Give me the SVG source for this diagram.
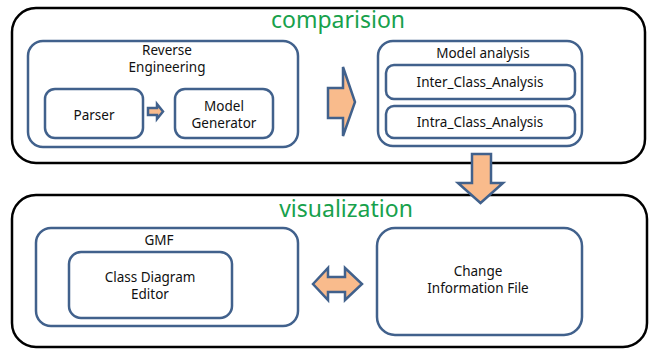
<svg xmlns="http://www.w3.org/2000/svg" width="653" height="349" viewBox="0 0 653 349">
<style>
.outer{fill:#fff;stroke:#000;stroke-width:2.5}
.box{fill:#fff;stroke:#41618c;stroke-width:2.5}
.arr{fill:#f9bb8c;stroke:#41618c;stroke-width:2.5;stroke-linejoin:miter}
.t{font-family:"Noto Sans","Open Sans",sans-serif;font-size:13.5px;fill:#111;text-anchor:middle}
.title{font-family:"Noto Sans","Open Sans",sans-serif;font-size:23px;fill:#17a14c;text-anchor:middle}
</style>
<rect width="653" height="349" fill="#fff"/>
<g id="comparision">
<rect class="outer" x="12" y="8" width="633" height="155" rx="24"/>
<text class="title" x="338" y="28">comparision</text>
</g>
<g id="reverse-engineering">
<rect class="box" x="28" y="41" width="270" height="106" rx="15"/>
<text class="t" x="167" y="55">Reverse</text>
<text class="t" x="167" y="72">Engineering</text>
</g>
<g id="parser">
<rect class="box" x="45" y="89" width="98" height="49" rx="10"/>
<text class="t" x="94" y="120">Parser</text>
</g>
<g id="model-generator">
<rect class="box" x="175" y="89" width="98" height="49" rx="10"/>
<text class="t" x="224" y="111">Model</text>
<text class="t" x="224" y="128">Generator</text>
</g>
<g id="model-analysis">
<rect class="box" x="378" y="41" width="204" height="105" rx="15"/>
<text class="t" x="483" y="58">Model analysis</text>
</g>
<g id="inter-class-analysis">
<rect class="box" x="386" y="65" width="189" height="34" rx="8"/>
<text class="t" x="480" y="87">Inter_Class_Analysis</text>
</g>
<g id="intra-class-analysis">
<rect class="box" x="386" y="106" width="189" height="32" rx="8"/>
<text class="t" x="480" y="127">Intra_Class_Analysis</text>
</g>
<g id="visualization">
<rect class="outer" x="12" y="195" width="635" height="152" rx="24"/>
<text class="title" x="346" y="217">visualization</text>
</g>
<g id="gmf">
<rect class="box" x="36" y="228" width="262" height="98" rx="15"/>
<text class="t" x="159" y="245">GMF</text>
</g>
<g id="class-diagram-editor">
<rect class="box" x="69" y="252" width="163" height="66" rx="12"/>
<text class="t" x="150" y="282">Class Diagram</text>
<text class="t" x="150" y="299">Editor</text>
</g>
<g id="change-information-file">
<rect class="box" x="377" y="228" width="205" height="107" rx="18"/>
<text class="t" x="478" y="276">Change</text>
<text class="t" x="478" y="293">Information File</text>
</g>
<g id="connectors">
<polygon class="arr" points="148,108 157,108 157,104 163,111.5 157,119 157,115 148,115"/>
<polygon class="arr" points="328,88 343,88 343,67 355,102 343,136 343,118 328,118"/>
<polygon class="arr" points="472,154 491,154 491,183 503,183 480.5,203 458,183 472,183"/>
<polygon class="arr" points="313,284 328,268 328,277 345,277 345,268 362,284 345,300 345,292 328,292 328,300"/>
</g>
</svg>
